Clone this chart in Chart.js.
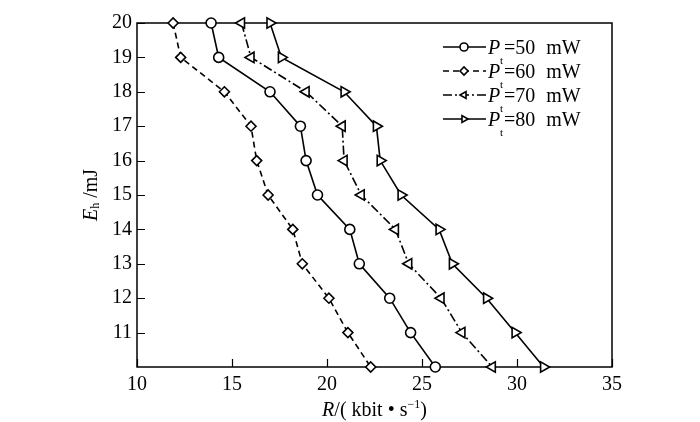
<!DOCTYPE html>
<html>
<head>
<meta charset="utf-8">
<script src="https://cdn.jsdelivr.net/npm/chart.js@4.4.1/dist/chart.umd.min.js"></script>
<style>
  html, body { margin: 0; padding: 0; background: #fff; }
</style>
</head>
<body>
<canvas id="chart" width="700" height="422"></canvas>
<script>
// Energy levels on the vertical axis (mJ), top to bottom
const energyLevels = [20, 19, 18, 17, 16, 15, 14, 13, 12, 11, 10];

// Rate R (kbit/s), one array per transmit power
const rate50mW = [13.9, 14.3, 17.0, 18.6, 18.9, 19.5, 21.2, 21.7, 23.3, 24.4, 25.7];
const rate60mW = [11.9, 12.3, 14.6, 16.0, 16.3, 16.9, 18.2, 18.7, 20.1, 21.1, 22.3];
const rate70mW = [15.5, 16.0, 18.9, 20.8, 20.9, 21.8, 23.6, 24.3, 26.0, 27.1, 28.7];
const rate80mW = [17.0, 17.6, 20.9, 22.6, 22.8, 23.9, 25.9, 26.6, 28.4, 29.9, 31.4];

const powerLabels = ['50', '60', '70', '80'];
const xTickValues = [10, 15, 20, 25, 30, 35];
const yTickValues = [11, 12, 13, 14, 15, 16, 17, 18, 19, 20];

const SERIF = '"Liberation Serif", "Times New Roman", serif';

function toPoints(rates) {
    return rates.map((r, i) => ({ x: r, y: energyLevels[i] }));
}

function series(label, rates, style, rotation, dash, radius) {
    return {
        label: label,
        data: toPoints(rates),
        borderColor: '#000',
        borderWidth: 1.6,
        borderDash: dash,
        tension: 0,
        clip: false,
        pointStyle: style,
        rotation: rotation,
        pointRadius: radius,
        pointBorderWidth: 1.6,
        pointBorderColor: '#000',
        pointBackgroundColor: '#fff'
    };
}

// Draw a row of text pieces (italic, sub/superscript) starting at x along baseline y
function drawPieces(ctx, pieces, x, y) {
    pieces.forEach(p => {
        ctx.font = (p.italic ? 'italic ' : '') + p.size + 'px ' + SERIF;
        ctx.fillText(p.t, x + (p.dx || 0), y + (p.dy || 0));
        x += (p.adv !== undefined) ? p.adv : ctx.measureText(p.t).width;
    });
    return x;
}

function piecesWidth(ctx, pieces) {
    let w = 0;
    pieces.forEach(p => {
        ctx.font = (p.italic ? 'italic ' : '') + p.size + 'px ' + SERIF;
        w += (p.adv !== undefined) ? p.adv : ctx.measureText(p.t).width;
    });
    return w;
}

const decorations = {
    id: 'decorations',
    beforeDatasetsDraw(chart) {
        const ctx = chart.ctx;
        const a = chart.chartArea;
        const xs = chart.scales.x, ys = chart.scales.y;
        ctx.save();
        ctx.strokeStyle = '#000';
        ctx.lineWidth = 1.5;
        ctx.strokeRect(a.left, a.top, a.right - a.left, a.bottom - a.top);
        // inward tick marks on left and bottom
        ctx.lineWidth = 1.2;
        ctx.beginPath();
        yTickValues.forEach(v => {
            const py = Math.round(ys.getPixelForValue(v)) + 0.5;
            ctx.moveTo(a.left, py);
            ctx.lineTo(a.left + 8, py);
        });
        xTickValues.forEach(v => {
            const px = Math.round(xs.getPixelForValue(v)) + 0.5;
            ctx.moveTo(px, a.bottom);
            ctx.lineTo(px, a.bottom - 8);
        });
        ctx.stroke();
        ctx.restore();
    },
    afterDraw(chart) {
        const ctx = chart.ctx;
        const a = chart.chartArea;
        ctx.save();
        ctx.fillStyle = '#000';
        ctx.textBaseline = 'alphabetic';
        ctx.textAlign = 'left';

        // x axis title: R/(kbit·s^-1)
        const xTitle = [
            { t: 'R', italic: true, size: 20 },
            { t: '/( kbit \u2022 s', size: 20 },
            { t: '\u22121', size: 12, dy: -8 },
            { t: ')', size: 20 }
        ];
        const cx = (a.left + a.right) / 2;
        drawPieces(ctx, xTitle, cx - piecesWidth(ctx, xTitle) / 2, 416);

        // y axis title: E_h /mJ, rotated
        const yTitle = [
            { t: 'E', italic: true, size: 20 },
            { t: 'h', size: 12, dy: 2 },
            { t: ' /mJ', size: 20 }
        ];
        ctx.save();
        ctx.translate(97, (a.top + a.bottom) / 2);
        ctx.rotate(-Math.PI / 2);
        drawPieces(ctx, yTitle, -piecesWidth(ctx, yTitle) / 2, 0);
        ctx.restore();

        // legend
        chart.data.datasets.forEach((ds, i) => {
            const y = 47 + i * 24;
            ctx.strokeStyle = '#000';
            ctx.lineWidth = ds.borderWidth;
            ctx.setLineDash(ds.borderDash || []);
            ctx.beginPath();
            ctx.moveTo(443, y);
            ctx.lineTo(486, y);
            ctx.stroke();
            ctx.setLineDash([]);
            ctx.fillStyle = '#fff';
            Chart.helpers.drawPoint(ctx, {
                pointStyle: ds.pointStyle,
                rotation: ds.rotation,
                radius: 4,
                borderWidth: 1.6
            }, 464, y);
            ctx.fillStyle = '#000';
            const yb = y + 7;
            drawPieces(ctx, [
                { t: 'P', italic: true, size: 20, adv: 12 },
                { t: 't', size: 11, dy: 10, adv: 4 },
                { t: '=' + ds.label, size: 20 },
                { t: 'mW', size: 20, dx: 11 }
            ], 488, yb);
        });
        ctx.restore();
    }
};

new Chart(document.getElementById('chart'), {
    type: 'line',
    data: {
        datasets: [
            series(powerLabels[0], rate50mW, 'circle', 0, [], 5),
            series(powerLabels[1], rate60mW, 'rectRot', 0, [6, 4], 5),
            series(powerLabels[2], rate70mW, 'triangle', -90, [9, 3, 2, 3], 6),
            series(powerLabels[3], rate80mW, 'triangle', 90, [], 6)
        ]
    },
    options: {
        responsive: false,
        animation: false,
        layout: { padding: { left: 0, top: 23, right: 88, bottom: 0 } },
        plugins: {
            legend: { display: false },
            tooltip: { enabled: false }
        },
        scales: {
            x: {
                type: 'linear',
                min: 10,
                max: 35,
                afterFit: s => { s.height = 55; },
                afterBuildTicks: s => { s.ticks = xTickValues.map(v => ({ value: v })); },
                grid: { display: false, drawTicks: false },
                border: { display: false },
                ticks: {
                    color: '#000',
                    padding: 6,
                    maxRotation: 0,
                    font: { family: SERIF, size: 20 }
                }
            },
            y: {
                type: 'linear',
                min: 10,
                max: 20,
                afterFit: s => { s.width = 137; },
                afterBuildTicks: s => { s.ticks = yTickValues.map(v => ({ value: v })); },
                grid: { display: false, drawTicks: false },
                border: { display: false },
                ticks: {
                    color: '#000',
                    padding: 5,
                    font: { family: SERIF, size: 20 }
                }
            }
        }
    },
    plugins: [decorations]
});
</script>
</body>
</html>
